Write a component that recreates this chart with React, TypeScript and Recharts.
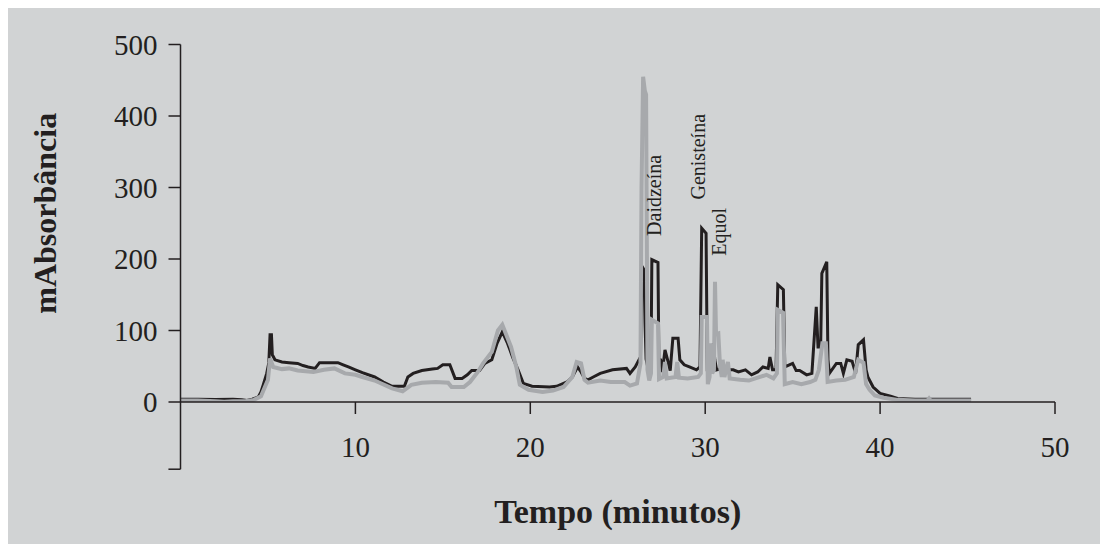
import React from 'react';
import {
  LineChart,
  Line,
  XAxis,
  YAxis,
  ReferenceLine,
  ReferenceDot,
} from 'recharts';

// retention time (min) / absorbance (mAU)
const blackTime = [
  0, 1, 2, 3, 3.5, 3.8, 4.1, 4.45, 4.6, 4.73, 4.93, 5.05, 5.12, 5.2, 5.25, 5.4, 5.8, 6.2, 6.7, 7.0,
  7.3, 7.7, 7.95, 8.5, 9.0, 9.3, 9.6, 10.0, 10.4, 11.1, 11.6, 12.1, 12.8, 13.0, 13.3, 13.8, 14.4, 14.7, 15.0, 15.4,
  15.7, 16.1, 16.4, 16.65, 17.1, 17.4, 17.8, 18.1, 18.4, 18.7, 19.0, 19.3, 19.6, 20.1, 21.1, 21.5, 22.1, 22.4, 22.7, 22.9,
  23.1, 23.3, 23.6, 24.0, 24.7, 25.5, 25.7, 26.0, 26.3, 26.38, 26.5, 26.56, 26.62, 26.75, 26.9, 26.95, 27.3, 27.35, 27.45, 27.55,
  27.7, 27.85, 28.0, 28.15, 28.45, 28.55, 28.8, 29.1, 29.5, 29.7, 29.8, 30.05, 30.12, 30.25, 30.4, 30.47, 30.55, 30.65, 31.0, 31.3,
  31.6, 31.9, 32.3, 32.65, 33.0, 33.3, 33.6, 33.7, 33.85, 34.05, 34.15, 34.47, 34.55, 35.0, 35.2, 35.4, 35.8, 36.1, 36.2, 36.35,
  36.45, 36.6, 36.67, 36.95, 37.02, 37.1, 37.5, 37.75, 37.9, 38.1, 38.4, 38.6, 38.75, 39.05, 39.2, 39.3, 39.6, 40.0, 40.6, 41.0,
  42, 43, 44, 45.2,
];
const blackValue = [
  4, 4, 3.5, 4, 3, 2, 4, 7, 14, 24, 40, 55, 94, 94, 66, 59, 56, 55, 54, 51,
  49, 47, 55, 55, 55, 52, 49, 45, 41, 35, 28, 22, 22, 35, 40, 44, 46, 47, 52, 52,
  33, 33, 38, 44, 44, 54, 59, 82, 98, 82, 62, 45, 26, 22, 21, 22, 28, 35, 49, 42,
  33, 31, 35, 40, 45, 47, 40, 49, 63, 190, 185, 110, 60, 45, 50, 199, 195, 60, 59, 42,
  73, 59, 44, 89, 89, 59, 52, 49, 45, 49, 243, 236, 45, 45, 68, 82, 59, 45, 47, 45,
  45, 42, 45, 38, 42, 49, 47, 63, 45, 45, 164, 157, 49, 54, 44, 44, 38, 40, 77, 133,
  77, 77, 180, 196, 59, 40, 54, 54, 40, 59, 57, 40, 80, 87, 45, 35, 21, 12, 8, 5,
  4, 4, 4, 4,
];

const grayTime = [
  0, 1, 2, 2.5, 3.0, 3.7, 4.2, 4.6, 5.0, 5.12, 5.3, 5.8, 6.2, 6.7, 7.6, 8.2, 8.8, 9.4, 10.0, 10.4,
  11.1, 12.1, 12.7, 13.2, 13.8, 14.6, 15.3, 15.5, 16.2, 16.55, 17.0, 17.3, 17.8, 18.15, 18.4, 18.9, 19.2, 19.4, 19.9, 20.7,
  21.3, 21.9, 22.4, 22.65, 22.9, 23.1, 23.3, 24.0, 24.6, 25.4, 25.7, 26.1, 26.3, 26.36, 26.45, 26.55, 26.62, 26.7, 26.8, 26.9,
  26.95, 27.3, 27.36, 27.6, 27.7, 27.8, 28.3, 28.4, 28.5, 29.0, 29.6, 29.75, 29.8, 30.1, 30.15, 30.25, 30.32, 30.4, 30.5, 30.56,
  30.62, 30.75, 30.85, 30.95, 31.0, 31.1, 31.3, 31.4, 32.0, 32.5, 33.0, 33.5, 33.9, 34.1, 34.15, 34.45, 34.55, 35.0, 35.5, 36.0,
  36.3, 36.5, 36.7, 36.9, 37.0, 37.5, 38.0, 38.5, 38.75, 39.05, 39.2, 39.4, 39.7, 40.2, 41, 42, 42.7, 42.8, 42.9, 44,
  45.2,
];
const grayValue = [
  2, 2, 1, 0.5, 1, 1, 3, 8, 31, 61, 49, 46, 47, 44, 42, 45, 47, 40, 38, 35,
  30, 19, 15, 24, 27, 28, 27, 21, 21, 28, 42, 54, 70, 100, 108, 77, 49, 24, 17, 14,
  16, 21, 35, 56, 54, 31, 27, 30, 28, 28, 23, 26, 54, 300, 455, 435, 430, 45, 30, 40,
  115, 110, 32, 35, 56, 33, 35, 56, 34, 33, 35, 40, 119, 119, 25, 35, 82, 40, 45, 168,
  95, 96, 49, 35, 59, 35, 56, 33, 31, 30, 34, 38, 33, 40, 129, 125, 25, 28, 25, 28,
  31, 45, 82, 82, 28, 30, 31, 35, 59, 55, 25, 17, 9, 6, 3, 2, 2, 5, 2, 2,
  2,
];

const xTicks = [10, 20, 30, 40, 50];
const yTicks = [0, 100, 200, 300, 400, 500];

const peakNames = ['Daidzeína', 'Genisteína', 'Equol'];
const peakLabelTime = [27.07, 29.56, 30.76];
const peakLabelValue = [289, 343, 238];

const ink = '#231f20';
const blackData = blackTime.map((t, i) => ({ t, v: blackValue[i] }));
const grayData = grayTime.map((t, i) => ({ t, v: grayValue[i] }));

const YTitle = (props: any) => {
  const { viewBox } = props;
  const x = viewBox.x + 37;
  const y = viewBox.y + viewBox.height / 2 - 10;
  return (
    <text
      x={x}
      y={y}
      transform={`rotate(-90, ${x}, ${y})`}
      textAnchor="middle"
      dominantBaseline="central"
      fill={ink}
      fontSize={32}
      fontWeight="bold"
    >
      mAbsorbância
    </text>
  );
};

export default function App() {
  return (
    <div
      style={{
        width: 1092,
        height: 536,
        background: '#d1d3d4',
        fontFamily: '"Liberation Serif", "Times New Roman", serif',
      }}
    >
      <LineChart width={1092} height={536} margin={{ top: 36.5, right: 45, bottom: 0, left: 0 }}>
        <XAxis
          type="number"
          dataKey="t"
          domain={[0, 50]}
          ticks={xTicks}
          height={142}
          tickSize={12}
          tickMargin={22}
          stroke={ink}
          strokeWidth={1.5}
          tick={{ fill: ink, fontSize: 29 }}
          label={{
            value: 'Tempo (minutos)',
            position: 'insideBottom',
            offset: 21,
            fill: ink,
            fontSize: 34,
            fontWeight: 'bold',
          }}
        />
        <YAxis
          type="number"
          domain={[0, 500]}
          ticks={yTicks}
          allowDataOverflow
          width={172.5}
          tickSize={12}
          tickMargin={11}
          stroke={ink}
          strokeWidth={1.5}
          tick={{ fill: ink, fontSize: 29 }}
          label={<YTitle />}
        />
        {/* y axis continues below zero, with an end tick */}
        <ReferenceLine
          segment={[{ x: 0, y: 0 }, { x: 0, y: -94 }]}
          ifOverflow="visible"
          stroke={ink}
          strokeWidth={1.5}
        />
        <ReferenceLine
          segment={[{ x: 0, y: -94 }, { x: -0.69, y: -94 }]}
          ifOverflow="visible"
          stroke={ink}
          strokeWidth={1.5}
        />
        <Line
          data={blackData}
          dataKey="v"
          type="linear"
          stroke={ink}
          strokeWidth={3}
          dot={false}
          isAnimationActive={false}
        />
        <Line
          data={grayData}
          dataKey="v"
          type="linear"
          stroke="#a7a9ac"
          strokeWidth={4}
          dot={false}
          isAnimationActive={false}
        />
        {peakNames.map((name, i) => (
          <ReferenceDot
            key={name}
            x={peakLabelTime[i]}
            y={peakLabelValue[i]}
            r={0}
            stroke="none"
            fill="none"
            label={{ value: name, angle: -90, position: 'center', fill: ink, fontSize: 20 }}
          />
        ))}
      </LineChart>
    </div>
  );
}
